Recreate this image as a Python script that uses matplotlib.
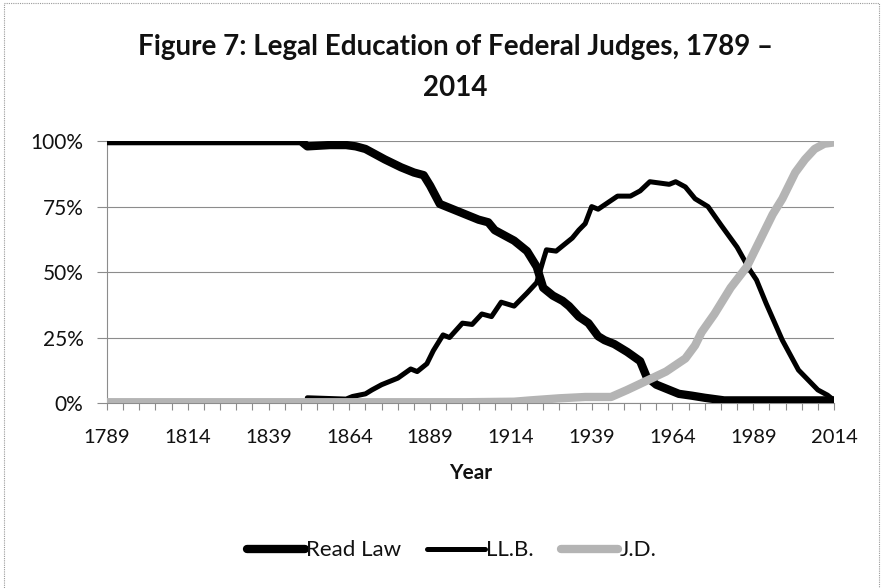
import matplotlib.pyplot as plt
from matplotlib.patches import Rectangle
from matplotlib.ticker import FixedLocator, PercentFormatter

# valores (porcentaje de jueces federales por tipo de formacion)
read_law_years = [1789, 1849, 1851, 1858, 1863, 1866, 1869, 1872, 1875, 1880, 1884, 1887,
                  1889, 1892, 1894, 1897, 1900, 1904, 1907, 1909, 1912, 1915, 1917, 1919,
                  1922, 1924, 1927, 1930, 1932, 1935, 1938, 1941, 1943, 1946, 1950, 1954,
                  1956, 1959, 1962, 1966, 1970, 1974, 1980, 2014]
read_law_pct = [100, 100, 98, 98.5, 98.5, 98, 97, 95, 93, 90, 88, 87,
                83, 76, 75, 73.5, 72, 70, 69, 66, 64, 62, 60, 58,
                52, 44, 41, 39, 37, 33, 30.5, 25.5, 24, 22.5, 19.5, 16,
                10, 7, 5.5, 3.5, 2.8, 2, 1, 1]

llb_years = [1851, 1863, 1865, 1869, 1871, 1874, 1879, 1883, 1885, 1888, 1890, 1893,
             1895, 1899, 1902, 1905, 1908, 1911, 1915, 1919, 1922, 1924, 1925, 1928,
             1931, 1933, 1935, 1937, 1939, 1941, 1947, 1951, 1954, 1957, 1960, 1963,
             1965, 1968, 1971, 1975, 1979, 1984, 1988, 1990, 1993, 1998, 2003, 2009,
             2012, 2014]
llb_pct = [2, 1.5, 2.5, 3.5, 5, 7, 9.5, 13, 12, 15, 20, 26,
           25, 30.5, 30, 34, 33, 38.5, 37, 42, 46, 54.5, 58.5, 58,
           61, 63, 66, 68.5, 75, 74, 79, 79, 81, 84.5, 84, 83.5,
           84.5, 82.5, 78, 75, 68, 59.5, 50.7, 47, 38, 24, 12.6, 5,
           3, 1]

jd_years = [1789, 1900, 1915, 1920, 1929, 1937, 1945, 1950, 1956, 1962, 1968, 1971,
            1973, 1977, 1982, 1987, 1991, 1995, 1998, 2002, 2005, 2008, 2011, 2014]
jd_pct = [0.3, 0.3, 0.5, 1, 1.8, 2.3, 2.3, 5, 8.5, 12, 17, 22,
          27, 34, 44, 52, 62, 72, 78, 88, 93, 97, 99, 99.5]

tick_years = list(range(1789, 2015, 25))

TEXT = "#111111"
GRID = "#8c8c8c"
JD_GRAY = "#b4b4b4"
FONT = "Lato"

fig = plt.figure(figsize=(8.82, 5.88), dpi=100)
ax = fig.add_axes([0.1213, 0.3146, 0.8243, 0.4454])

ax.plot(read_law_years, read_law_pct, color="black", lw=6.0,
        solid_capstyle="round", solid_joinstyle="round", label="Read Law", zorder=3)
ax.plot(llb_years, llb_pct, color="black", lw=3.6,
        solid_capstyle="round", solid_joinstyle="round", label="LL.B.", zorder=4)
ax.plot(jd_years, jd_pct, color=JD_GRAY, lw=6.0,
        solid_capstyle="round", solid_joinstyle="round", label="J.D.", zorder=5)

ax.set_xlim(1789, 2014)
ax.set_ylim(0, 100)
ax.set_yticks([0, 25, 50, 75, 100])
ax.yaxis.set_major_formatter(PercentFormatter(decimals=0))
ax.set_xticks(tick_years)
ax.xaxis.set_minor_locator(FixedLocator(range(1789, 2015, 5)))
ax.grid(axis="y", color=GRID, lw=0.8, zorder=0)

ax.tick_params(axis="y", length=7, width=0.8, color=GRID, pad=10,
               labelsize=15, labelcolor=TEXT)
ax.tick_params(axis="x", which="both", length=5, width=0.8, color=GRID, pad=14,
               labelsize=14.5, labelcolor=TEXT)
for lab in ax.get_xticklabels() + ax.get_yticklabels():
    lab.set_fontfamily(FONT)

for spine in ("top", "right"):
    ax.spines[spine].set_visible(False)
for spine in ("left", "bottom"):
    ax.spines[spine].set_color(GRID)
    ax.spines[spine].set_linewidth(0.8)

ax.set_xlabel("Year", fontsize=15, fontweight="bold", color=TEXT,
              fontfamily=FONT, labelpad=12)

fig.text(0.516, 0.92, "Figure 7: Legal Education of Federal Judges, 1789 \u2013",
         ha="center", va="center", fontsize=20, fontweight="bold",
         color=TEXT, fontfamily=FONT)
fig.text(0.516, 0.851, "2014", ha="center", va="center", fontsize=20,
         fontweight="bold", color=TEXT, fontfamily=FONT)

leg = fig.legend(loc="center", bbox_to_anchor=(0.512, 0.064), ncol=3, frameon=False,
                 handlelength=2.6, handletextpad=0.05, columnspacing=1.2,
                 prop={"family": FONT, "size": 16})
for t in leg.get_texts():
    t.set_color(TEXT)

# marco punteado del area del grafico
fig.patches.append(Rectangle((0.004, -0.01), 0.993, 1.005, transform=fig.transFigure,
                             fill=False, edgecolor="#9a9a9a", lw=0.8, ls=(0, (1, 1))))

fig.savefig("out.png", dpi=100)
